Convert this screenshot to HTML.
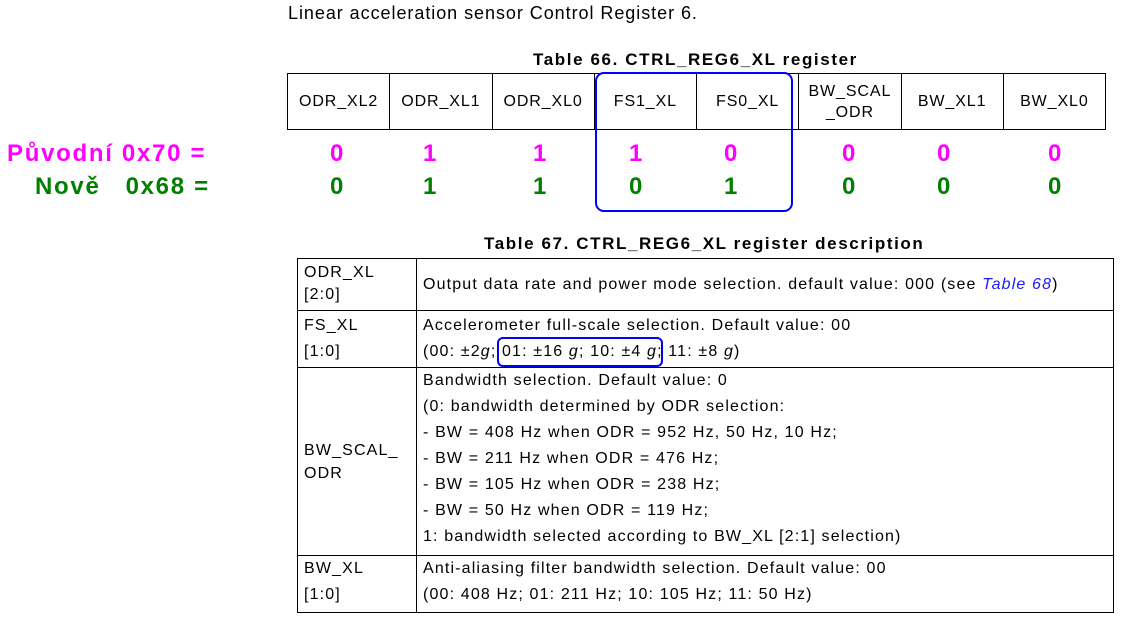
<!DOCTYPE html>
<html><head><meta charset="utf-8"><style>
body{margin:0;width:1133px;height:641px;background:#fff;position:relative;font-family:"Liberation Sans",sans-serif;color:#000;overflow:hidden}
.a{position:absolute;white-space:nowrap}
.b{font-weight:bold;font-size:24px}
.m{color:#ff00ff}.g{color:#008000}
table{border-collapse:collapse;position:absolute;table-layout:fixed}
td{border:1px solid #000;padding:0;white-space:nowrap}
</style></head><body>
<div class="a" style="left:288px;top:3px;font-size:18px;letter-spacing:0.95px">Linear acceleration sensor Control Register 6.</div>
<div class="a" style="left:533px;top:50px;font-size:17px;font-weight:bold;letter-spacing:1.6px">Table 66. CTRL_REG6_XL register</div>
<table style="left:287px;top:73px;width:819px;height:57px;font-size:16px;text-align:center;letter-spacing:0.9px">
<tr><td>ODR_XL2</td><td>ODR_XL1</td><td>ODR_XL0</td><td>FS1_XL</td><td>FS0_XL</td><td style="line-height:21px">BW_SCAL<br>_ODR</td><td>BW_XL1</td><td>BW_XL0</td></tr></table>
<div class="a b m" style="left:7px;top:140px;letter-spacing:1.7px">Původní 0x70 =</div>
<div class="a b g" style="left:35px;top:173px;letter-spacing:1.7px">Nově&nbsp;&nbsp; 0x68 =</div>
<div class="a b m" style="left:330px;top:140px">0</div><div class="a b g" style="left:330px;top:173px">0</div>
<div class="a b m" style="left:423px;top:140px">1</div><div class="a b g" style="left:423px;top:173px">1</div>
<div class="a b m" style="left:533px;top:140px">1</div><div class="a b g" style="left:533px;top:173px">1</div>
<div class="a b m" style="left:629px;top:140px">1</div><div class="a b g" style="left:629px;top:173px">0</div>
<div class="a b m" style="left:724px;top:140px">0</div><div class="a b g" style="left:724px;top:173px">1</div>
<div class="a b m" style="left:842px;top:140px">0</div><div class="a b g" style="left:842px;top:173px">0</div>
<div class="a b m" style="left:937px;top:140px">0</div><div class="a b g" style="left:937px;top:173px">0</div>
<div class="a b m" style="left:1048px;top:140px">0</div><div class="a b g" style="left:1048px;top:173px">0</div>
<div class="a" style="left:595px;top:72px;width:194px;height:136px;border:2px solid #0000ff;border-radius:9px"></div>
<div class="a" style="left:484px;top:234px;font-size:17px;font-weight:bold;letter-spacing:1.6px">Table 67. CTRL_REG6_XL register description</div>
<table style="left:297px;top:258px;width:817px;font-size:16px;line-height:26px;letter-spacing:1.15px">
<col style="width:119px"><col>
<tr style="height:52px"><td style="padding-left:6px;line-height:22px;vertical-align:top;padding-top:3px">ODR_XL<br>[2:0]</td><td style="padding-left:6px">Output data rate and power mode selection. default value: 000 (see <i style="color:#1a1aff">Table 68</i>)</td></tr>
<tr style="height:57px"><td style="padding-left:6px;vertical-align:top;padding-top:2px">FS_XL<br>[1:0]</td><td style="padding-left:6px;vertical-align:top;padding-top:2px">Accelerometer full-scale selection. Default value: 00<br>(00: ±2<i>g</i>; 01: ±16 <i>g</i>; 10: ±4 <i>g</i>; 11: ±8 <i>g</i>)</td></tr>
<tr style="height:188px"><td style="padding-left:6px;line-height:23px">BW_SCAL_<br>ODR</td><td style="padding-left:6px;vertical-align:top;padding-top:0px">Bandwidth selection. Default value: 0<br>(0: bandwidth determined by ODR selection:<br>- BW = 408 Hz when ODR = 952 Hz, 50 Hz, 10 Hz;<br>- BW = 211 Hz when ODR = 476 Hz;<br>- BW = 105 Hz when ODR = 238 Hz;<br>- BW = 50 Hz when ODR = 119 Hz;<br>1: bandwidth selected according to BW_XL [2:1] selection)</td></tr>
<tr style="height:57px"><td style="padding-left:6px;vertical-align:top;padding-top:0px">BW_XL<br>[1:0]</td><td style="padding-left:6px;vertical-align:top;padding-top:0px">Anti-aliasing filter bandwidth selection. Default value: 00<br>(00: 408 Hz; 01: 211 Hz; 10: 105 Hz; 11: 50 Hz)</td></tr>
</table>
<div class="a" style="left:497px;top:337px;width:162px;height:26px;border:2px solid #0000ff;border-radius:6px"></div>
</body></html>
